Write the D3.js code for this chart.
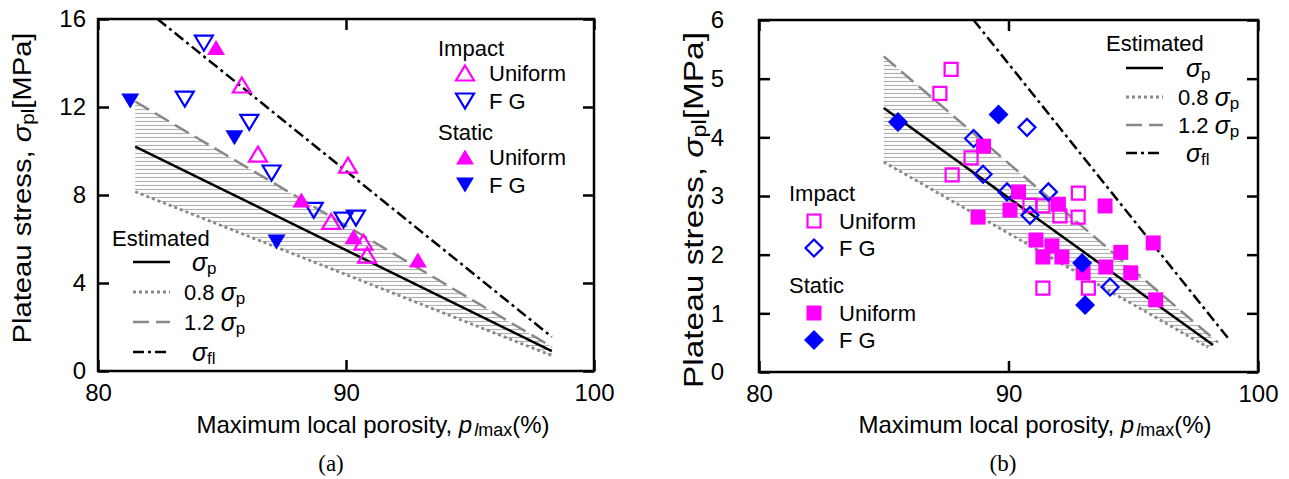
<!DOCTYPE html>
<html>
<head>
<meta charset="utf-8">
<script src="https://cdn.jsdelivr.net/npm/d3@7"></script>
<style>
  body { margin: 0; background: #fff; }
  svg text { font-family: "Liberation Sans", Arial, sans-serif; fill: #000; }
</style>
</head>
<body>
<div id="graph"></div>
<script>
// ------DATA------
const xTicks = [80, 90, 100]
const yTicksA = [0, 4, 8, 12, 16]
const yTicksB = [0, 1, 2, 3, 4, 5, 6]

// panel (a): [porosity %, plateau stress MPa]
const aImpactUniform = [[85.8, 13.0], [86.45, 9.86], [90.08, 9.36], [89.4, 6.8], [90.7, 5.86], [90.85, 5.27]]
const aImpactFG = [[84.27, 14.9], [83.5, 12.36], [86.1, 11.3], [87.0, 9.0], [88.7, 7.3], [89.9, 6.86], [90.4, 6.95]]
const aStaticUniform = [[84.76, 14.7], [88.2, 7.77], [90.3, 6.1], [92.9, 5.05]]
const aStaticFG = [[81.3, 12.27], [85.5, 10.6], [87.2, 5.86]]
const aSigmaP = [[81.5, 10.2], [98.3, 0.9]]
const aSigmaLow = [[81.5, 8.15], [98.3, 0.7]]
const aSigmaHigh = [[81.5, 12.25], [98.3, 1.1]]
const aSigmaFl = [[82.4, 16], [98.3, 1.55]]

// panel (b)
const bImpactUniform = [[87.7, 5.16], [87.25, 4.75], [88.5, 3.65], [87.74, 3.36], [90.86, 2.84], [91.38, 2.83],
  [92.8, 3.05], [92.06, 2.66], [92.79, 2.64], [91.38, 1.43], [93.2, 1.43]]
const bImpactFG = [[88.6, 3.98], [90.74, 4.17], [88.98, 3.37], [89.94, 3.07], [91.6, 3.07], [90.86, 2.67], [94.07, 1.45]]
const bStaticUniform = [[89.0, 3.85], [88.78, 2.64], [90.06, 2.76], [90.4, 3.07], [92.0, 2.86], [93.87, 2.83],
  [91.1, 2.25], [91.74, 2.15], [91.38, 1.96], [92.14, 1.96], [92.99, 1.69], [93.9, 1.79], [94.5, 2.04],
  [94.9, 1.69], [95.8, 2.2], [95.9, 1.23]]
const bStaticFG = [[85.57, 4.26], [89.6, 4.39], [92.95, 1.86], [93.07, 1.14]]
const bSigmaP = [[85, 4.5], [98.2, 0.46]]
const bSigmaLow = [[85, 3.58], [98.0, 0.42]]
const bSigmaHigh = [[85, 5.38], [98.4, 0.5]]
const bSigmaFl = [[88.6, 6], [98.85, 0.55]]

// ------STYLES------
const MAGENTA = "#ff00ff", BLUE = "#0000ff"
const lineStyles = {
  p:    { stroke: "#000", width: 2.5, dash: null },
  low:  { stroke: "#888", width: 2.8, dash: "3,3" },
  high: { stroke: "#888", width: 2.5, dash: "16,7" },
  fl:   { stroke: "#000", width: 2.5, dash: "11,4,3,4" }
}
const shapes = {
  up:   "M0,-7.5L9,7.5L-9,7.5Z",
  down: "M-9,-7.5L9,-7.5L0,7.5Z",
  square: "M-6.5,-6.5H6.5V6.5H-6.5Z",
  squareF: "M-7.5,-7.5H7.5V7.5H-7.5Z",
  diamond: "M0,-8.5L8.5,0L0,8.5L-8.5,0Z",
  diamondF: "M0,-10L10,0L0,10L-10,0Z"
}

const svg = d3.select("#graph").append("svg")
  .attr("width", 1289).attr("height", 479)

const defs = svg.append("defs")
const pat = defs.append("pattern").attr("id", "hatch")
  .attr("patternUnits", "userSpaceOnUse").attr("width", 8).attr("height", 4)
pat.append("line").attr("x1", 0).attr("x2", 8).attr("y1", 1.5).attr("y2", 1.5)
  .attr("stroke", "#b0b0b0").attr("stroke-width", 1.2)

// draws one panel
function drawPanel(cfg) {
  const x = d3.scaleLinear().domain([80, 100]).range(cfg.xr)
  const y = d3.scaleLinear().domain([0, cfg.yMax]).range(cfg.yr)
  const g = svg.append("g")
  const tick = 11

  // hatched band between 0.8 and 1.2 sigma_p
  const band = cfg.low.concat(cfg.high.slice().reverse())
  g.append("path")
    .attr("d", "M" + band.map(d => x(d[0]) + "," + y(d[1])).join("L") + "Z")
    .attr("fill", "url(#hatch)")

  // axes (ticks inward on all four sides)
  const styleAxis = sel => {
    sel.select(".domain").remove()
    sel.selectAll(".tick line").attr("stroke", "#000").attr("stroke-width", 2.5)
    sel.selectAll("text").style("font-size", "24px").style("font-family", '"Liberation Sans", Arial, sans-serif')
  }
  g.append("g").attr("transform", `translate(0,${cfg.yr[0]})`)
    .call(d3.axisBottom(x).tickValues(xTicks).tickFormat(d3.format("d")).tickSizeInner(-tick).tickSizeOuter(0).tickPadding(13))
    .call(styleAxis)
  g.append("g").attr("transform", `translate(0,${cfg.yr[1]})`)
    .call(d3.axisTop(x).tickValues(xTicks).tickFormat("").tickSizeInner(-tick).tickSizeOuter(0))
    .call(styleAxis)
  g.append("g").attr("transform", `translate(${cfg.xr[0]},0)`)
    .call(d3.axisLeft(y).tickValues(cfg.yTicks).tickFormat(d3.format("d")).tickSizeInner(-tick).tickSizeOuter(0).tickPadding(cfg.yPad))
    .call(styleAxis)
  g.append("g").attr("transform", `translate(${cfg.xr[1]},0)`)
    .call(d3.axisRight(y).tickValues(cfg.yTicks).tickFormat("").tickSizeInner(-tick).tickSizeOuter(0))
    .call(styleAxis)
  g.append("rect")
    .attr("x", cfg.xr[0]).attr("y", cfg.yr[1])
    .attr("width", cfg.xr[1] - cfg.xr[0]).attr("height", cfg.yr[0] - cfg.yr[1])
    .attr("fill", "none").attr("stroke", "#000").attr("stroke-width", 2.5)

  // estimated lines
  const line = d3.line().x(d => x(d[0])).y(d => y(d[1]))
  ;[["low", cfg.low], ["high", cfg.high], ["p", cfg.p], ["fl", cfg.fl]].forEach(([k, pts]) => {
    const s = lineStyles[k]
    g.append("path").attr("d", line(pts)).attr("fill", "none")
      .attr("stroke", s.stroke).attr("stroke-width", s.width)
      .attr("stroke-dasharray", s.dash)
  })

  // markers
  cfg.series.forEach(s => {
    g.selectAll(null).data(s.data).enter().append("path")
      .attr("d", shapes[s.shape])
      .attr("transform", d => `translate(${x(d[0])},${y(d[1])})`)
      .attr("fill", s.filled ? s.color : "none")
      .attr("stroke", s.filled ? "none" : s.color)
      .attr("stroke-width", 2.2)
  })

  // marker legend
  const ml = cfg.markerLegend
  const lg = g.append("g").style("font-size", "22px")
  ;[["Impact", 0, ml.y0], ["Static", 2, ml.y1]].forEach(([title, idx, ty]) => {
    lg.append("text").attr("x", ml.tx).attr("y", ty).attr("dominant-baseline", "central").text(title)
    ;[0, 1].forEach(j => {
      const s = cfg.series[idx + j]
      const ry = ty + ml.first + ml.gap * j
      lg.append("path").attr("d", shapes[s.shape])
        .attr("transform", `translate(${ml.mx},${ry})`)
        .attr("fill", s.filled ? s.color : "none")
        .attr("stroke", s.filled ? "none" : s.color).attr("stroke-width", 2.2)
      lg.append("text").attr("x", ml.lx).attr("y", ry).attr("dominant-baseline", "central").text(s.label)
    })
  })

  // estimated legend
  const el = cfg.estLegend
  const eg = g.append("g").style("font-size", "22px")
  eg.append("text").attr("x", el.tx).attr("y", el.ty).attr("dominant-baseline", "central").text("Estimated")
  const rows = [["p", "", "p"], ["low", "0.8", "p"], ["high", "1.2", "p"], ["fl", "", "fl"]]
  rows.forEach(([k, pre, sub], i) => {
    const s = lineStyles[k]
    const ry = el.rows[i]
    eg.append("line").attr("x1", el.x1).attr("x2", el.x2).attr("y1", ry).attr("y2", ry)
      .attr("stroke", s.stroke).attr("stroke-width", s.width).attr("stroke-dasharray", s.dash)
    const t = eg.append("text").attr("x", pre ? el.lx - 4 : el.lx + 4).attr("y", ry).attr("dominant-baseline", "central")
    if (pre) t.append("tspan").text(pre + " ")
    t.append("tspan").attr("font-style", "italic").style("font-size", "25px").text("σ")
    t.append("tspan").attr("dy", 6).style("font-size", "17px").text(sub)
  })

  // axis titles
  const yt = g.append("text")
    .attr("transform", `translate(${cfg.ylx},${cfg.yly}) rotate(-90)`)
    .attr("text-anchor", "middle").attr("dominant-baseline", "central")
    .style("font-size", cfg.ylSize + "px")
    .attr("textLength", cfg.ylLen).attr("lengthAdjust", "spacingAndGlyphs")
  yt.append("tspan").text("Plateau stress,  ")
  yt.append("tspan").attr("font-style", "italic").text("σ")
  yt.append("tspan").attr("dy", 6).style("font-size", (cfg.ylSize * 0.7) + "px").text("pl")
  yt.append("tspan").attr("dy", -6).text("[MPa]")

  const xt = g.append("text")
    .attr("x", cfg.xlx).attr("y", 424)
    .attr("text-anchor", "middle").attr("dominant-baseline", "central")
    .style("font-size", "24px")
  xt.append("tspan").text("Maximum local porosity, ")
  xt.append("tspan").attr("font-style", "italic").text("p")
  xt.append("tspan").attr("dy", 6).attr("dx", 2).attr("font-style", "italic").style("font-size", "18px").text("l")
  xt.append("tspan").style("font-size", "18px").text("max")
  xt.append("tspan").attr("dy", -6).text("(%)")

  g.append("text").attr("x", cfg.capx).attr("y", 463)
    .attr("text-anchor", "middle").attr("dominant-baseline", "central")
    .style("font-family", '"Liberation Serif", "Times New Roman", serif').style("font-size", "23px")
    .text(cfg.caption)
}

drawPanel({
  xr: [98, 594], yr: [371, 19], yMax: 16, yTicks: yTicksA, yPad: 12,
  p: aSigmaP, low: aSigmaLow, high: aSigmaHigh, fl: aSigmaFl,
  series: [
    { data: aImpactUniform, shape: "up", color: MAGENTA, filled: false, label: "Uniform" },
    { data: aImpactFG, shape: "down", color: BLUE, filled: false, label: "F G" },
    { data: aStaticUniform, shape: "up", color: MAGENTA, filled: true, label: "Uniform" },
    { data: aStaticFG, shape: "down", color: BLUE, filled: true, label: "F G" }
  ],
  markerLegend: { tx: 438, y0: 48, y1: 132, mx: 465, lx: 489, first: 25, gap: 28 },
  estLegend: { tx: 112, ty: 238, x1: 133, x2: 170, lx: 188, rows: [262, 292, 322, 352] },
  ylx: 22, yly: 188, ylSize: 25, ylLen: 311,
  xlx: 373, capx: 331, caption: "(a)"
})

drawPanel({
  xr: [759, 1258], yr: [372, 20], yMax: 6, yTicks: yTicksB, yPad: 35,
  p: bSigmaP, low: bSigmaLow, high: bSigmaHigh, fl: bSigmaFl,
  series: [
    { data: bImpactUniform, shape: "square", color: MAGENTA, filled: false, label: "Uniform" },
    { data: bImpactFG, shape: "diamond", color: BLUE, filled: false, label: "F G" },
    { data: bStaticUniform, shape: "squareF", color: MAGENTA, filled: true, label: "Uniform" },
    { data: bStaticFG, shape: "diamondF", color: BLUE, filled: true, label: "F G" }
  ],
  markerLegend: { tx: 789, y0: 193, y1: 285, mx: 814, lx: 839, first: 28, gap: 27 },
  estLegend: { tx: 1106, ty: 43, x1: 1126, x2: 1163, lx: 1182, rows: [68, 97, 125, 153] },
  ylx: 693, yly: 210, ylSize: 28, ylLen: 356,
  xlx: 1035, capx: 1003, caption: "(b)"
})
</script>
</body>
</html>
